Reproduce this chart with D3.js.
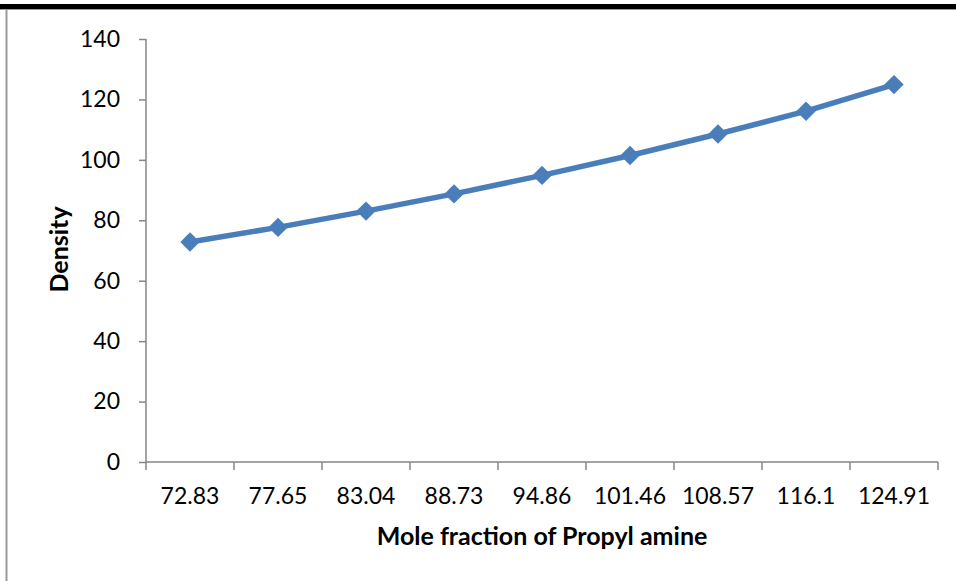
<!DOCTYPE html>
<html>
<head>
<meta charset="utf-8">
<script src="https://cdn.jsdelivr.net/npm/d3@7"></script>
<style>
  body { margin: 0; background: #fff; }
  text { font-family: Lato, "Open Sans", sans-serif; fill: #000; }
</style>
</head>
<body>
<svg id="chart"></svg>
<script>
'use strict'

const categories = ['72.83', '77.65', '83.04', '88.73', '94.86', '101.46', '108.57', '116.1', '124.91']
const density = [72.83, 77.65, 83.04, 88.73, 94.86, 101.46, 108.57, 116.1, 124.91]
const yTicks = [0, 20, 40, 60, 80, 100, 120, 140]

const width = 956, height = 581
const margins = { top: 39, right: 18, bottom: 119, left: 146 }
const chartWidth = width - margins.left - margins.right
const chartHeight = height - margins.top - margins.bottom

const svg = d3.select('#chart')
    .attr('width', width)
    .attr('height', height)

// frame bits from the page the chart was cut out of
svg.append('rect').attr('x', 0).attr('y', 4).attr('width', width).attr('height', 5).attr('fill', '#000')
svg.append('line').attr('x1', 0).attr('x2', width).attr('y1', 9.5).attr('y2', 9.5).attr('stroke', '#9a9a9a').attr('stroke-width', 1)
svg.append('line').attr('x1', 6.5).attr('x2', 6.5).attr('y1', 9).attr('y2', height).attr('stroke', '#9a9a9a').attr('stroke-width', 2)

const g = svg.append('g')
    .attr('transform', 'translate(' + margins.left + ',' + margins.top + ')')

const x = d3.scaleBand()
    .domain(categories)
    .range([0, chartWidth])

const y = d3.scaleLinear()
    .domain([0, 140])
    .range([chartHeight, 0])

// y axis
const yAxis = g.append('g')
    .call(d3.axisLeft(y).tickValues(yTicks).tickSize(7).tickPadding(19))
yAxis.selectAll('line, path').attr('stroke', '#868686').attr('stroke-width', 1.5)
yAxis.select('.domain').attr('d', 'M0,' + chartHeight + 'V0')
yAxis.selectAll('text').style('font-size', '23px').style('font-family', 'Lato, sans-serif')

// x axis, ticks on the category boundaries
const bounds = categories.map(c => x(c)).concat([chartWidth])
const xAxis = g.append('g')
    .attr('transform', 'translate(0,' + chartHeight + ')')
xAxis.append('line')
    .attr('x1', 0).attr('x2', chartWidth)
    .attr('stroke', '#868686').attr('stroke-width', 1.5)
xAxis.selectAll('.xtick')
    .data(bounds)
    .enter().append('line')
    .attr('x1', d => d).attr('x2', d => d)
    .attr('y1', 0).attr('y2', 8)
    .attr('stroke', '#868686').attr('stroke-width', 1.5)
xAxis.selectAll('.xlabel')
    .data(categories)
    .enter().append('text')
    .attr('x', d => x(d) + x.bandwidth() / 2)
    .attr('y', 42)
    .attr('text-anchor', 'middle')
    .style('font-size', '23px')
    .text(d => d)

// axis titles
svg.append('text')
    .attr('x', margins.left + chartWidth / 2)
    .attr('y', 545)
    .attr('text-anchor', 'middle')
    .style('font-size', '25px')
    .style('font-weight', 'bold')
    .text('Mole fraction of Propyl amine')

svg.append('text')
    .attr('transform', 'translate(68,' + (margins.top + chartHeight / 2 - 1) + ') rotate(-90)')
    .attr('text-anchor', 'middle')
    .style('font-size', '25px')
    .style('font-weight', 'bold')
    .text('Density')

// series
const points = categories.map((c, i) => ({ c: c, v: density[i] }))
const line = d3.line()
    .x(d => x(d.c) + x.bandwidth() / 2)
    .y(d => y(d.v))

g.append('path')
    .datum(points)
    .attr('d', line)
    .attr('fill', 'none')
    .attr('stroke', '#4a7ebb')
    .attr('stroke-width', 5.5)
    .attr('stroke-linejoin', 'round')

g.selectAll('.marker')
    .data(points)
    .enter().append('path')
    .attr('d', d3.symbol().type(d3.symbolDiamond2).size(240))
    .attr('transform', d => 'translate(' + (x(d.c) + x.bandwidth() / 2) + ',' + y(d.v) + ')')
    .attr('fill', '#4a7ebb')
</script>
</body>
</html>
